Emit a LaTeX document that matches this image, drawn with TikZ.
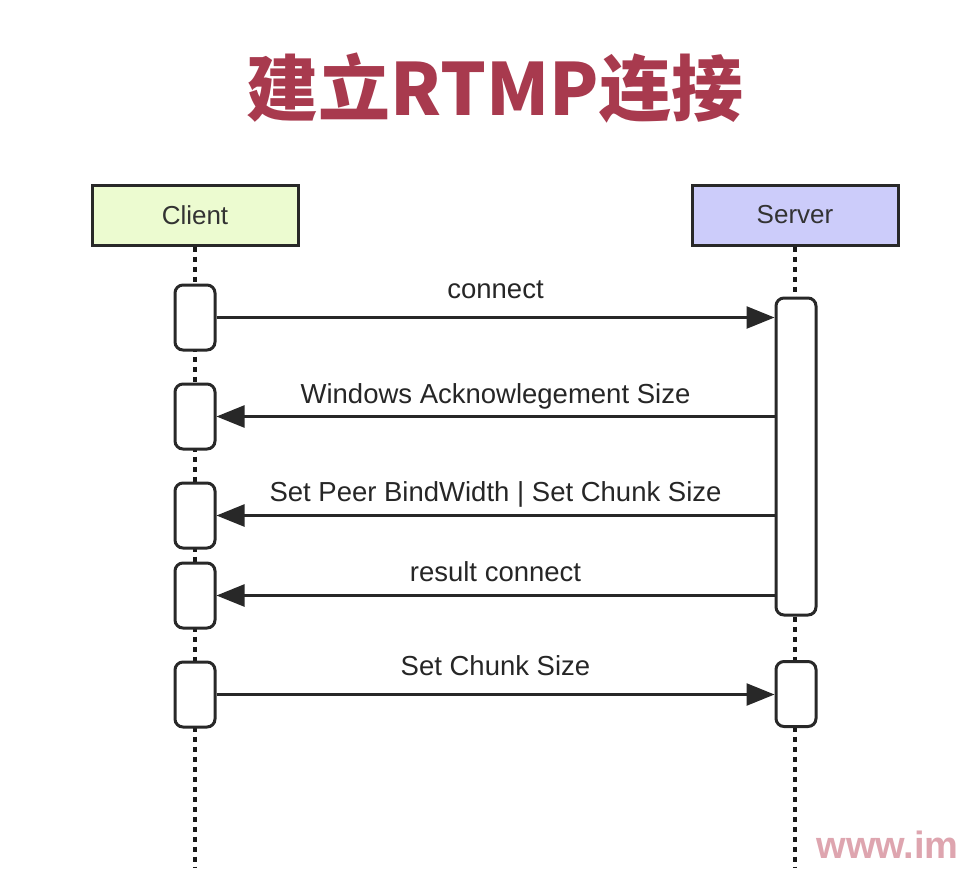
\documentclass[tikz,border=0pt]{standalone}
\usepackage{fontspec}
\setmainfont{Liberation Sans}
\newfontfamily\titlefont{Noto Sans CJK SC}
\usetikzlibrary{arrows.meta}
\definecolor{titlered}{RGB}{168,58,78}
\definecolor{clientgreen}{RGB}{236,251,208}
\definecolor{serverblue}{RGB}{204,204,250}
\definecolor{linegray}{RGB}{40,40,40}
\definecolor{markpink}{RGB}{222,165,175}
\tikzstyle{heading} =
[font=\titlefont\bfseries\fontsize{72}{78}\selectfont, text=titlered]
\tikzstyle{actor} =
[rectangle, minimum width = 206pt, minimum height = 60pt, text centered,
draw=linegray, line width=3pt, text=black!80,
font=\fontsize{26}{30}\selectfont]
\tikzstyle{activation} =
[rectangle, rounded corners=8pt, minimum width = 40pt, minimum height = 65pt,
draw=linegray, line width=3pt, fill=white]
\tikzstyle{lifeline} = [draw=black!90, line width=3.5pt, dash pattern=on 5pt off 5pt]
\tikzstyle{msg} = [draw=linegray, line width=2.5pt, -{Triangle[length=28pt,width=22pt]}]
\tikzstyle{msglabel} =
[anchor=base, text=black!85, font=\fontsize{27.5}{32}\selectfont]
\tikzstyle{watermark} =
[anchor=base west, text=markpink, font=\bfseries\fontsize{38}{42}\selectfont]

\begin{document}
\begin{tikzpicture}[x=1pt, y=-1pt, node distance=99pt]
  \clip (0,0) rectangle (968,868);
  \fill[white] (0,0) rectangle (968,868);
  % title
  \node [heading] (title) at (495,88) {建立RTMP连接};
  % actors
  \node [actor, fill=clientgreen] (client) at (195,215) {Client};
  \node [actor, fill=serverblue] (server) at (795,215) {Server};
  % lifelines
  \coordinate (clientend) at (195,868);
  \coordinate (serverend) at (795,868);
  \path [lifeline] (client) -- (clientend);
  \path [lifeline] (server) -- (serverend);
  % client activations
  \node [activation] (c1) at (195,317.5) {};
  \node [activation, below of=c1] (c2) {};
  \node [activation, below of=c2] (c3) {};
  \node [activation, below of=c3, node distance=80pt] (c4) {};
  \node [activation, below of=c4] (c5) {};
  % server activations
  \node [activation, minimum height=317pt] (s1) at (796,456.5) {};
  \node [activation] (s2) at (796,694) {};
  % messages
  \path [msg] (c1.east) -- node [msglabel, yshift=19pt] {connect}
    (c1.east -| s1.west);
  \path [msg] (c2.east -| s1.west) -- node [msglabel, yshift=13pt]
    {Windows Acknowlegement Size} (c2.east);
  \path [msg] (c3.east -| s1.west) -- node [msglabel, yshift=14pt]
    {Set Peer BindWidth | Set Chunk Size} (c3.east);
  \path [msg] (c4.east -| s1.west) -- node [msglabel, yshift=14pt]
    {result connect} (c4.east);
  \path [msg] (c5.east) -- node [msglabel, yshift=19pt] {Set Chunk Size}
    (c5.east -| s2.west);
  % watermark
  \node [watermark] (mark) at (813,858) {www.im};
\end{tikzpicture}
\end{document}
